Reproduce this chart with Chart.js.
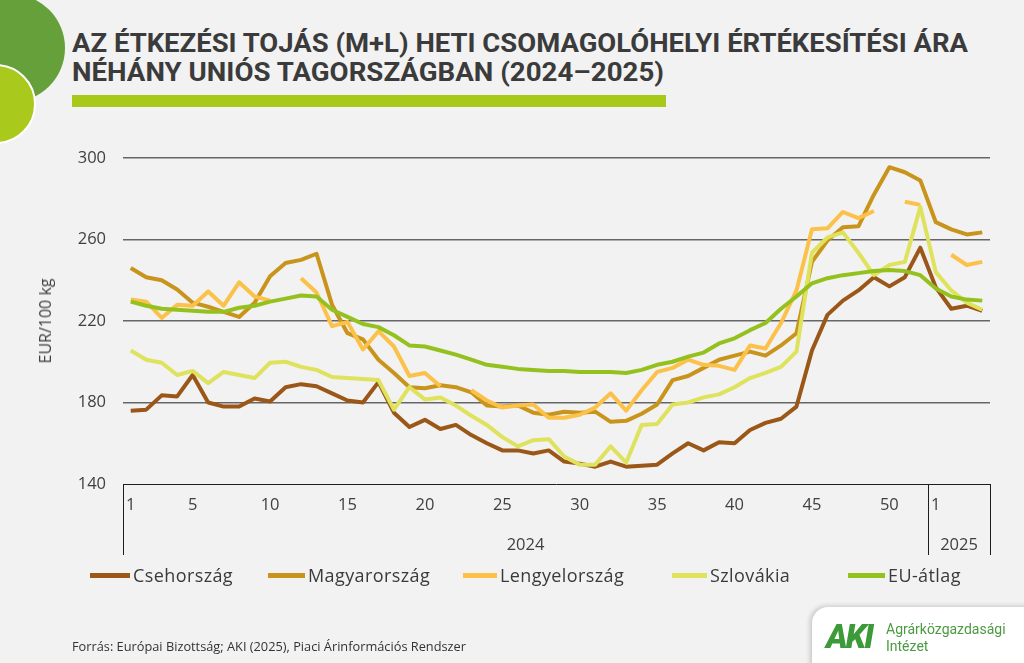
<!DOCTYPE html>
<html lang="hu">
<head>
<meta charset="utf-8">
<title>Étkezési tojás ára</title>
<script src="https://cdn.jsdelivr.net/npm/chart.js@4.4.1/dist/chart.umd.min.js"></script>
<style>
  html, body { margin: 0; padding: 0; }
  body {
    width: 1024px; height: 663px; position: relative; overflow: hidden;
    background: #f2f2f2; font-family: "Open Sans", Lato, sans-serif; color: #3a3a3a;
  }
  #chart { position: absolute; left: 0; top: 0; }
  .circle-dark { position: absolute; left: -43px; top: -6px; width: 108px; height: 108px; border-radius: 50%; background: #66a03a; }
  .circle-light { position: absolute; left: -44px; top: 64px; width: 76px; height: 76px; border-radius: 50%; background: #a9c91c; border: 2px solid #fff; }
  .title {
    position: absolute; left: 72px; white-space: nowrap; display: inline-block;
    font: 700 26px Roboto, "Open Sans", sans-serif; color: #3b3b3b; line-height: 1;
    transform-origin: 0 0;
  }
  #t1 { top: 30px; }
  #t2 { top: 59px; }
  .bar { position: absolute; left: 72px; top: 95px; width: 594px; height: 12px; background: #a8c91a; }
  .ytitle {
    position: absolute; left: 45px; top: 321px; white-space: nowrap;
    transform: translate(-50%, -50%) rotate(-90deg);
    font: 400 16px "Open Sans", sans-serif; color: #404040;
  }
  .legend-item { position: absolute; top: 563px; height: 24px; display: flex; align-items: center; font: 400 18px "Open Sans", sans-serif; letter-spacing: 0.4px; color: #3a3a3a; white-space: nowrap; }
  .legend-item .swatch { display: inline-block; height: 5px; margin-right: 3px; }
  .source {
    position: absolute; left: 72px; top: 638px; white-space: nowrap; display: inline-block;
    font: 12.5px "Liberation Sans Narrow", "Open Sans", sans-serif; color: #333; transform-origin: 0 0;
  }
  .logo {
    position: absolute; left: 812px; top: 607px; width: 240px; height: 70px; background: #fff;
    border-radius: 16px 0 0 0; box-shadow: -2px -1px 5px rgba(0,0,0,0.18);
  }
  .logo .aki { position: absolute; left: 14px; top: 10px; font: italic 900 33px Roboto, sans-serif; color: #3d9a38; letter-spacing: -2px; }
  .logo .name { position: absolute; left: 74px; top: 14px; font: 14px "Liberation Sans Narrow", Roboto, sans-serif; color: #4a9a40; line-height: 17px; }
</style>
</head>
<body>
<div class="circle-dark"></div>
<div class="circle-light"></div>
<div class="title" id="t1">AZ ÉTKEZÉSI TOJÁS (M+L) HETI CSOMAGOLÓHELYI ÉRTÉKESÍTÉSI ÁRA</div>
<div class="title" id="t2">NÉHÁNY UNIÓS TAGORSZÁGBAN (2024–2025)</div>
<div class="bar"></div>
<canvas id="chart" width="1024" height="663"></canvas>
<div class="ytitle">EUR/100 kg</div>
<div id="legend"></div>
<div class="source" id="source">Forrás: Európai Bizottság; AKI (2025), Piaci Árinformációs Rendszer</div>
<div class="logo"><div class="aki">AKI</div><div class="name">Agrárközgazdasági<br>Intézet</div></div>
<script>
// --- Data (weekly prices, EUR/100 kg) ---
const weeks = [
  '1','2','3','4','5','6','7','8','9','10','11','12','13','14','15','16','17','18','19','20',
  '21','22','23','24','25','26','27','28','29','30','31','32','33','34','35','36','37','38','39','40',
  '41','42','43','44','45','46','47','48','49','50','51','52',
  '1','2','3','4'
];
const years = ['2024', '2025'];
const yearStart = [0, 52];           // first category index of each year
const shownTicks = [0, 4, 9, 14, 19, 24, 29, 34, 39, 44, 49, 52];
const yTicks = [140, 180, 220, 260, 300];

const seriesNames = ['Csehország', 'Magyarország', 'Lengyelország', 'Szlovákia', 'EU-átlag'];
const seriesColors = ['#9a5718', '#c9941b', '#fcc149', '#dfe25c', '#95c11f'];

const czech = [176, 176.5, 183.5, 183, 193.5, 180, 178, 178, 182, 180.5, 187.5, 189, 188, 184.5, 181, 180, 190, 175, 168, 171.5,
  167, 169, 164, 160, 156.5, 156.5, 155, 156.5, 151, 150, 148.5, 151, 148.5, 149, 149.5, 155, 160, 156.5, 160.5, 160,
  166.5, 170, 172, 178, 205.5, 223, 230, 235, 241.5, 237, 241.5, 256,
  236.5, 226, 227.5, 225];
const hungary = [246, 241.5, 240, 235.5, 229, 227, 224.5, 222, 229, 242, 248.5, 250, 253, 228, 214, 211, 201, 194.5, 187.5, 187,
  188.5, 187.5, 185, 178.5, 178, 178.5, 175, 174, 175.5, 175, 175.5, 170.5, 171, 174.5, 179, 191, 193, 197, 201, 203,
  205, 203, 208, 214, 249, 259.5, 266, 266.5, 282, 295.5, 293, 289,
  268.5, 265, 262.5, 263.5];
const poland = [230.5, 229.5, 221.5, 228, 227.5, 234.5, 227.5, 239, 232, 230, null, 241, 234, 217.5, 219.5, 206, 215, 207.5, 193, 194.5,
  188, null, 186, 181, 177.5, 178.5, 179, 172.5, 172.5, 174, 177.5, 184.5, 176, 186, 195, 197, 201, 198.5, 198, 196,
  208, 206.5, 219, 235, 265, 265.5, 273.5, 270.5, 274, null, 278.5, 277,
  null, 252.5, 247.5, 249];
const slovakia = [205.5, 201, 199.5, 193.5, 195.5, 189.5, 195, 193.5, 192, 199.5, 200, 197.5, 196, 192.5, 192, 191.5, 191, 176.5, 187.5, 181.5,
  182.5, 178.5, 173.5, 169, 163, 158.5, 161.5, 162, 153.5, 149.5, 149.5, 158.5, 150.5, 169, 169.5, 179, 180, 182.5, 184, 187.5,
  192, 194.5, 197.5, 205, 253.5, 261, 263.5, 253.5, 242.5, 247.5, 249, 276,
  244, 235, 229, 225.5];
const euAvg = [229.5, 227.5, 226, 225.5, 225, 224.5, 224.5, 226.5, 227.5, 229.5, 231, 232.5, 232, 225.5, 222, 218.5, 217, 213, 208, 207.5,
  205.5, 203.5, 201, 198.5, 197.5, 196.5, 196, 195.5, 195.5, 195, 195, 195, 194.5, 196, 198.5, 200, 202.5, 204.5, 209, 211.5,
  215.5, 219, 226, 232, 238.5, 241, 242.5, 243.5, 244.5, 245, 244.5, 242.5,
  236, 232, 230.5, 230];

const seriesData = [czech, hungary, poland, slovakia, euAvg];

const axisFont = { family: '"Open Sans", Lato, sans-serif', size: 16.5 };

// --- Helpers for the static text ---
function fitWidth(id, target) {
  const el = document.getElementById(id);
  const w = el.getBoundingClientRect().width;
  el.style.transform = `scaleX(${target / w})`;
}
fitWidth('t1', 896);
fitWidth('t2', 592);
fitWidth('source', 394);

// legend (HTML, placed like the original)
const legendX = [90, 268, 463, 672, 848];
const legendSwatch = [40, 37, 34, 35, 37];
const legendEl = document.getElementById('legend');
seriesNames.forEach((name, i) => {
  const item = document.createElement('div');
  item.className = 'legend-item';
  item.style.left = legendX[i] + 'px';
  item.innerHTML = `<span class="swatch" style="width:${legendSwatch[i]}px;background:${seriesColors[i]}"></span>${name}`;
  legendEl.appendChild(item);
});

// --- Multi-level category axis (week / year box) ---
const categoryBox = {
  id: 'categoryBox',
  afterDraw(chart) {
    const { ctx, chartArea, scales: { x } } = chart;
    const top = chartArea.bottom;
    const bottom = chartArea.bottom + 71;
    const edges = [chartArea.left];
    yearStart.slice(1).forEach(i => {
      edges.push((x.getPixelForValue(i - 1) + x.getPixelForValue(i)) / 2);
    });
    edges.push(chartArea.right);

    ctx.save();
    ctx.strokeStyle = '#1e1e1e';
    ctx.lineWidth = 1;
    edges.forEach(px => {
      const xx = Math.round(px) + 0.5;
      ctx.beginPath();
      ctx.moveTo(xx, top);
      ctx.lineTo(xx, bottom);
      ctx.stroke();
    });
    ctx.fillStyle = '#404040';
    ctx.font = `${axisFont.size}px ${axisFont.family}`;
    ctx.textAlign = 'center';
    ctx.textBaseline = 'middle';
    years.forEach((label, i) => {
      ctx.fillText(label, (edges[i] + edges[i + 1]) / 2, chartArea.bottom + 61);
    });
    ctx.restore();
  }
};

const ctx = document.getElementById('chart');
new Chart(ctx, {
  type: 'line',
  data: {
    labels: weeks,
    datasets: seriesNames.map((name, i) => ({
      label: name,
      data: seriesData[i],
      borderColor: seriesColors[i],
      backgroundColor: seriesColors[i],
      borderWidth: 4,
      borderJoinStyle: 'round',
      pointRadius: 0,
      tension: 0,
      spanGaps: false,
      order: seriesNames.length - 1 - i // EU on top, like the original
    }))
  },
  options: {
    responsive: false,
    animation: false,
    devicePixelRatio: 1,
    layout: { padding: { left: 0, right: 34, top: 158, bottom: 99 } },
    plugins: {
      legend: { display: false },
      tooltip: { enabled: false }
    },
    scales: {
      x: {
        offset: true,
        grid: { display: false, drawTicks: false },
        border: { display: false },
        afterFit: scale => { scale.height = 80; },
        ticks: {
          autoSkip: false,
          maxRotation: 0,
          padding: 11,
          color: '#404040',
          font: axisFont,
          callback: function(value, index) {
            return shownTicks.includes(index) ? weeks[index] : '';
          }
        }
      },
      y: {
        min: yTicks[0],
        max: yTicks[yTicks.length - 1],
        afterFit: scale => { scale.width = 123; },
        afterBuildTicks: scale => { scale.ticks = yTicks.map(v => ({ value: v })); },
        border: { display: false },
        grid: {
          drawTicks: false,
          color: c => c.tick && c.tick.value === 140 ? '#1e1e1e' : '#666666',
          lineWidth: c => c.tick && c.tick.value === 140 ? 1 : 1.5
        },
        ticks: {
          padding: 17,
          color: '#404040',
          font: axisFont
        }
      }
    }
  },
  plugins: [categoryBox]
});
</script>
</body>
</html>
